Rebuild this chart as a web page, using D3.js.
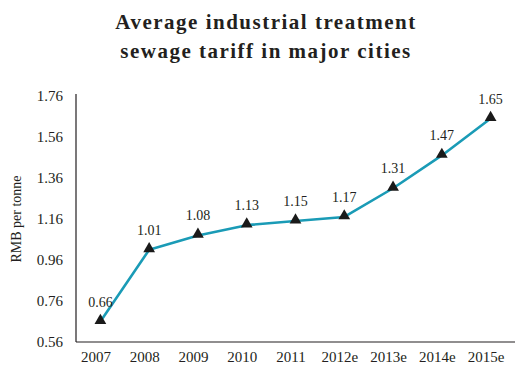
<!DOCTYPE html>
<html>
<head>
<meta charset="utf-8">
<script src="https://cdn.jsdelivr.net/npm/d3@7"></script>
<style>
  html, body { margin: 0; padding: 0; background: #fff; }
  svg { display: block; font-family: "Liberation Serif", "Times New Roman", serif; }
</style>
</head>
<body>
<svg id="chart" width="516" height="365"></svg>
<script>
// Average industrial sewage treatment tariff, RMB per tonne
const years = ["2007", "2008", "2009", "2010", "2011", "2012e", "2013e", "2014e", "2015e"];
const tariffs = [0.66, 1.01, 1.08, 1.13, 1.15, 1.17, 1.31, 1.47, 1.65];
const yTicks = [0.56, 0.76, 0.96, 1.16, 1.36, 1.56, 1.76];
const titleLines = ["Average industrial treatment", "sewage tariff in major cities"];

const svg = d3.select("#chart");
const margin = { left: 76, right: 1, top: 96, bottom: 23 };
const W = 516, H = 365;
const serif = "Liberation Serif, serif";

const x = d3.scalePoint()
  .domain(years)
  .range([margin.left, W - margin.right])
  .padding(0.5);

const y = d3.scaleLinear()
  .domain([0.56, 1.76])
  .range([H - margin.bottom, margin.top]);

// Title
svg.append("g").selectAll("text")
  .data(titleLines)
  .join("text")
  .attr("x", 266)
  .attr("y", (d, i) => 29 + i * 29)
  .attr("text-anchor", "middle")
  .attr("font-size", 21)
  .attr("font-weight", "bold")
  .attr("letter-spacing", 1.5)
  .attr("fill", "#231f20")
  .text(d => d);

// Y axis
const yAxis = svg.append("g")
  .attr("transform", `translate(${margin.left},0)`)
  .call(d3.axisLeft(y).tickValues(yTicks).tickFormat(d3.format(".2f")).tickSize(0).tickPadding(13));
yAxis.select(".domain").attr("stroke", "#231f20").attr("stroke-width", 1.2)
  .attr("d", `M0,${y(0.56)}V${y(1.76) - 2}`);
yAxis.selectAll("text").attr("font-size", 15).attr("fill", "#231f20")
  .attr("font-family", serif);

// X axis
const xAxis = svg.append("g")
  .attr("transform", `translate(0,${y(0.56)})`)
  .call(d3.axisBottom(x).tickSize(0).tickPadding(9));
xAxis.select(".domain").attr("stroke", "#231f20").attr("stroke-width", 1.2)
  .attr("d", `M${margin.left},0H${W - 1}`);
xAxis.selectAll("text").attr("font-size", 15).attr("fill", "#231f20")
  .attr("font-family", serif).attr("dx", -5);

// Y axis title
svg.append("text")
  .attr("transform", `translate(21,${(y(0.56) + y(1.76)) / 2}) rotate(-90)`)
  .attr("text-anchor", "middle")
  .attr("font-size", 14)
  .attr("fill", "#231f20")
  .text("RMB per tonne");

const data = years.map((yr, i) => ({ year: yr, value: tariffs[i] }));

// Line
svg.append("path")
  .datum(data)
  .attr("fill", "none")
  .attr("stroke", "#1a9bb6")
  .attr("stroke-width", 2.6)
  .attr("stroke-linejoin", "round")
  .attr("d", d3.line().x(d => x(d.year)).y(d => y(d.value)));

// Triangle markers
svg.append("g").selectAll("path")
  .data(data)
  .join("path")
  .attr("transform", d => `translate(${x(d.year)},${y(d.value) - 1})`)
  .attr("d", d3.symbol(d3.symbolTriangle, 60))
  .attr("fill", "#1a1a1a");

// Value labels
svg.append("g").selectAll("text")
  .data(data)
  .join("text")
  .attr("x", d => x(d.year))
  .attr("y", d => y(d.value) - 15)
  .attr("text-anchor", "middle")
  .attr("font-size", 14)
  .attr("fill", "#231f20")
  .text(d => d3.format(".2f")(d.value));
</script>
</body>
</html>
